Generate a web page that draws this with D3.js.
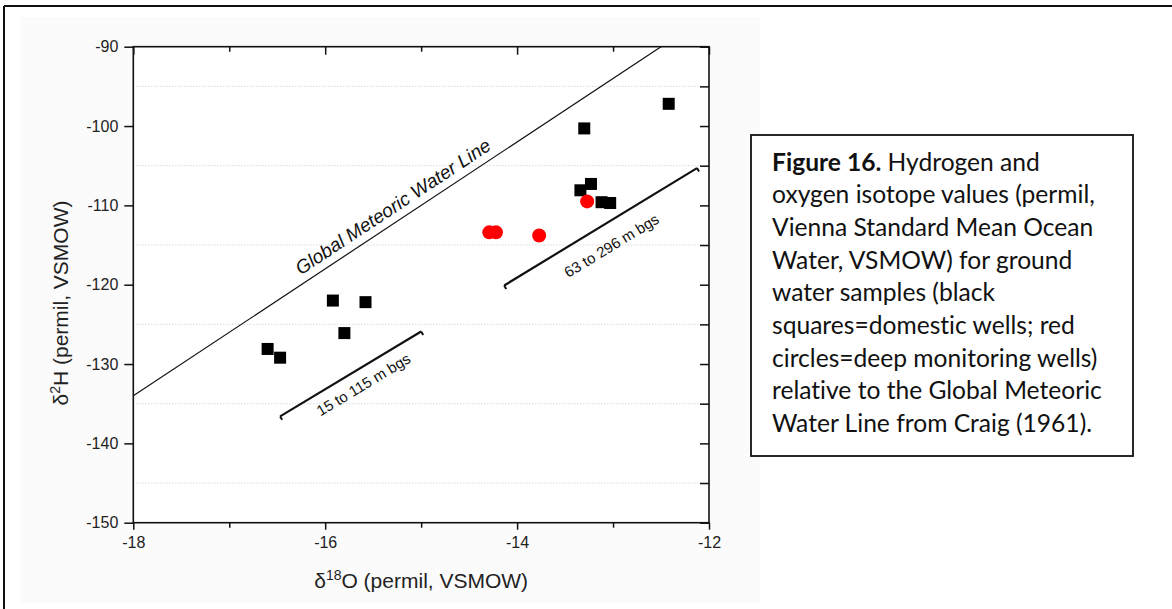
<!DOCTYPE html>
<html>
<head>
<meta charset="utf-8">
<script src="https://cdn.jsdelivr.net/npm/d3@7"></script>
<style>
  html, body { margin: 0; padding: 0; background: #fff; }
  svg { display: block; }
  text { font-variant-ligatures: none; }
</style>
</head>
<body>
<svg id="chart" width="1172" height="609"></svg>
<script>
// ---------------- data ----------------
const domesticO = [-12.42, -13.30, -13.34, -13.23, -13.12, -13.03, -15.92, -15.58, -15.80, -16.60, -16.47];
const domesticH = [-97.2, -100.3, -108.1, -107.3, -109.6, -109.7, -122.0, -122.2, -126.1, -128.1, -129.2];
const deepO = [-14.29, -14.22, -13.77, -13.27];
const deepH = [-113.4, -113.4, -113.8, -109.5];
const xTicks = [-18, -16, -14, -12];
const xMinorTicks = [-17, -15, -13];
const yTicks = [-150, -140, -130, -120, -110, -100, -90];
const yMinorTicks = [-145, -135, -125, -115, -105, -95];
const gmwlO = [-18, -12.5];            // Craig (1961): dH = 8 dO + 10
const gmwlH = gmwlO.map(o => 8 * o + 10);
const shallowSegO = [-16.47, -15.0];
const shallowSegH = [-136.6, -125.9];
const deepSegO = [-14.135, -12.125];
const deepSegH = [-120.1, -105.3];
const captionLines = [
  [["Figure 16.", true], [" Hydrogen and", false]],
  [["oxygen isotope values (permil,", false]],
  [["Vienna Standard Mean Ocean", false]],
  [["Water, VSMOW) for ground", false]],
  [["water samples (black", false]],
  [["squares=domestic wells; red", false]],
  [["circles=deep monitoring wells)", false]],
  [["relative to the Global Meteoric", false]],
  [["Water Line from Craig (1961).", false]]
];

// ---------------- drawing ----------------
const svg = d3.select("#chart");
const W = 1172, H = 609;
const L = 133.3, R = 709, T = 46.7, B = 522.7;
const x = d3.scaleLinear().domain([-18, -12]).range([L, R]);
const y = d3.scaleLinear().domain([-150, -90]).range([B, T]);
const AX = "'Liberation Sans', Arial, sans-serif";

// faint page background of pasted figure
svg.append("rect").attr("x", 20).attr("y", 17).attr("width", 740).attr("height", 586)
  .attr("fill", "#fbfbfb");

// outer document frame
svg.append("line").attr("x1", 4).attr("x2", W).attr("y1", 6).attr("y2", 6)
  .attr("stroke", "#111").attr("stroke-width", 2);
svg.append("line").attr("x1", 4).attr("x2", 4).attr("y1", 6).attr("y2", H)
  .attr("stroke", "#111").attr("stroke-width", 2);

// plot background
svg.append("rect").attr("x", L).attr("y", T).attr("width", R - L).attr("height", B - T)
  .attr("fill", "#fff");

// dotted grid
svg.append("g").selectAll("line").data(yMinorTicks).join("line")
  .attr("x1", L).attr("x2", R)
  .attr("y1", d => y(d)).attr("y2", d => y(d))
  .attr("stroke", "#c8c8c8").attr("stroke-width", 1).attr("stroke-dasharray", "1,2");

// GMWL
svg.append("line")
  .attr("x1", x(gmwlO[0])).attr("y1", y(gmwlH[0]))
  .attr("x2", x(gmwlO[1])).attr("y2", y(gmwlH[1]))
  .attr("stroke", "#111").attr("stroke-width", 1.2);

const ang = Math.atan2(y(gmwlH[1]) - y(gmwlH[0]), x(gmwlO[1]) - x(gmwlO[0])) * 180 / Math.PI;
{
  const o0 = -16.21;
  const px = x(o0), py = y(8 * o0 + 10);
  const a = ang * Math.PI / 180;
  const off = 8;
  const tx = px + off * Math.sin(a), ty = py - off * Math.cos(a);
  svg.append("text")
    .attr("transform", `translate(${tx},${ty}) rotate(${ang})`)
    .attr("font-family", AX).attr("font-style", "italic").attr("font-size", 19)
    .attr("fill", "#111")
    .text("Global Meteoric Water Line");
}

// depth segments with end caps
function segment(os, hs, label, t, offset) {
  const x1 = x(os[0]), y1 = y(hs[0]), x2 = x(os[1]), y2 = y(hs[1]);
  const a = Math.atan2(y2 - y1, x2 - x1);
  const g = svg.append("g");
  g.append("line").attr("x1", x1).attr("y1", y1).attr("x2", x2).attr("y2", y2)
    .attr("stroke", "#111").attr("stroke-width", 2.2);
  const nx = -Math.sin(a), ny = Math.cos(a); // normal pointing "below"
  [[x1, y1], [x2, y2]].forEach(([cx, cy]) => {
    g.append("line").attr("x1", cx).attr("y1", cy)
      .attr("x2", cx + nx * 4).attr("y2", cy + ny * 4)
      .attr("stroke", "#111").attr("stroke-width", 2);
  });
  const px = x1 + (x2 - x1) * t, py = y1 + (y2 - y1) * t;
  g.append("text")
    .attr("transform", `translate(${px + nx * offset},${py + ny * offset}) rotate(${a * 180 / Math.PI})`)
    .attr("font-family", AX).attr("font-size", 15).attr("fill", "#111")
    .text(label);
}
segment(shallowSegO, shallowSegH, "15 to 115 m bgs", 0.21, 21);
segment(deepSegO, deepSegH, "63 to 296 m bgs", 0.26, 27);

// points
svg.append("g").selectAll("rect").data(domesticO.map((o, i) => [o, domesticH[i]])).join("rect")
  .attr("x", d => x(d[0]) - 6).attr("y", d => y(d[1]) - 6)
  .attr("width", 12).attr("height", 12).attr("fill", "#000");
svg.append("g").selectAll("circle").data(deepO.map((o, i) => [o, deepH[i]])).join("circle")
  .attr("cx", d => x(d[0])).attr("cy", d => y(d[1])).attr("r", 7)
  .attr("fill", "#ff0000");

// axes
function styleAxis(g, showText) {
  g.select(".domain").remove();
  g.selectAll(".tick line").attr("stroke", "#111").attr("stroke-width", 1.5);
  g.selectAll(".tick text").attr("font-family", AX).attr("font-size", 16).attr("fill", "#222");
  if (!showText) g.selectAll(".tick text").remove();
}
svg.append("g").attr("transform", `translate(0,${B})`)
  .call(d3.axisBottom(x).tickValues(xTicks).tickSize(7).tickPadding(7).tickFormat(d => String(d)))
  .call(g => styleAxis(g, true));
svg.append("g").attr("transform", `translate(0,${B})`)
  .call(d3.axisBottom(x).tickValues(xMinorTicks).tickSize(5))
  .call(g => styleAxis(g, false));
svg.append("g").attr("transform", `translate(0,${T})`)
  .call(d3.axisTop(x).tickValues(xTicks).tickSize(-8))
  .call(g => styleAxis(g, false));
svg.append("g").attr("transform", `translate(0,${T})`)
  .call(d3.axisTop(x).tickValues(xMinorTicks).tickSize(-5))
  .call(g => styleAxis(g, false));
svg.append("g").attr("transform", `translate(${L},0)`)
  .call(d3.axisLeft(y).tickValues(yTicks).tickSize(9).tickPadding(6).tickFormat(d => String(d)))
  .call(g => styleAxis(g, true));
svg.append("g").attr("transform", `translate(${R},0)`)
  .call(d3.axisRight(y).tickValues(yTicks.concat(yMinorTicks)).tickSize(-9))
  .call(g => styleAxis(g, false));

// plot frame
svg.append("rect").attr("x", L).attr("y", T).attr("width", R - L).attr("height", B - T)
  .attr("fill", "none").attr("stroke", "#111").attr("stroke-width", 1.6);

// axis titles
const xl = svg.append("text").attr("x", (L + R) / 2).attr("y", 588)
  .attr("text-anchor", "middle").attr("font-family", AX).attr("font-size", 21).attr("fill", "#222");
xl.append("tspan").text("δ");
xl.append("tspan").attr("font-size", 14).attr("dy", -8).text("18");
xl.append("tspan").attr("dy", 8).text("O (permil, VSMOW)");

const yl = svg.append("text").attr("transform", "translate(68,303) rotate(-90)")
  .attr("text-anchor", "middle").attr("font-family", AX).attr("font-size", 21).attr("fill", "#222");
yl.append("tspan").text("δ");
yl.append("tspan").attr("font-size", 14).attr("dy", -8).text("2");
yl.append("tspan").attr("dy", 8).text("H (permil, VSMOW)");

// caption box
svg.append("rect").attr("x", 751).attr("y", 135).attr("width", 382).attr("height", 321)
  .attr("fill", "#fff").attr("stroke", "#111").attr("stroke-width", 1.8);
const cap = svg.append("g").attr("font-family", "Lato, 'Open Sans', sans-serif").attr("font-size", 24.6).attr("fill", "#111");
captionLines.forEach((parts, i) => {
  const t = cap.append("text").attr("x", 772).attr("y", 170.7 + i * 32.65);
  parts.forEach(([s, bold]) => t.append("tspan").attr("font-weight", bold ? 700 : 400).text(s));
});
</script>
</body>
</html>
